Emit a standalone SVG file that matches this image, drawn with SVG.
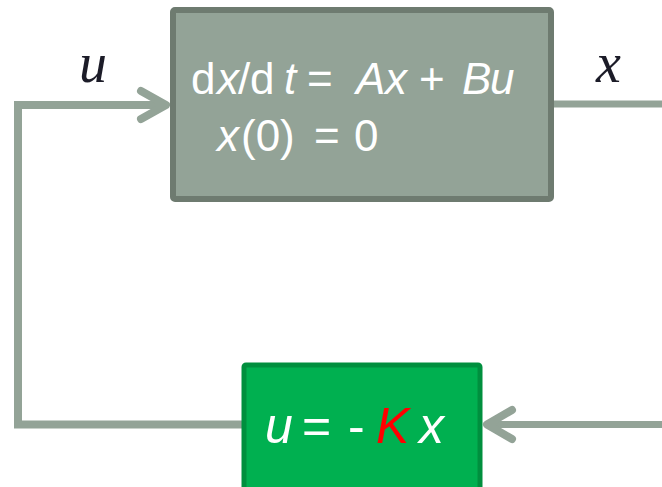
<svg xmlns="http://www.w3.org/2000/svg" width="662" height="487" viewBox="0 0 662 487">
<style>
.wire{fill:none;stroke:#93a397;stroke-width:8;stroke-linejoin:miter}
.head{fill:none;stroke:#93a397;stroke-width:8;stroke-linecap:round;stroke-linejoin:round}
.eq{font-family:"Liberation Sans",Arial,sans-serif;fill:#ffffff}
.it{font-style:italic}
.lbl{font-family:"Liberation Serif","Times New Roman",serif;font-style:italic;font-size:56px;fill:#1c1c28}
</style>
<rect width="662" height="487" fill="#ffffff"/>
<g id="connectors">
<polyline class="wire" points="244,424.5 18,424.5 18,105 166,105"/>
<polyline class="head" points="141,91 166,105 141,119"/>
<line class="wire" x1="552" y1="104" x2="662" y2="104" style="stroke-width:7"/>
<line class="wire" x1="488" y1="424.5" x2="662" y2="424.5" style="stroke-width:7"/>
<polyline class="head" points="512,410 487,424.5 512,439"/>
</g>
<g id="plant">
<rect x="173" y="10" width="378" height="189" fill="#93a397" stroke="#6e7b70" stroke-width="6" rx="2"/>
<text class="eq" font-size="44" y="94"><tspan x="191">d</tspan><tspan class="it" x="217">x</tspan><tspan x="238">/</tspan><tspan x="250">d</tspan><tspan class="it" x="284">t</tspan><tspan x="307">=</tspan><tspan class="it" x="356">A</tspan><tspan class="it" x="385">x</tspan><tspan x="419">+</tspan><tspan class="it" x="462">B</tspan><tspan class="it" x="490">u</tspan></text>
<text class="eq" font-size="44" y="151"><tspan class="it" x="217">x</tspan><tspan x="241">(0)</tspan><tspan x="314">=</tspan><tspan x="354">0</tspan></text>
</g>
<g id="controller">
<rect x="244" y="365" width="236" height="130" fill="#00b050" stroke="#008f3e" stroke-width="5" rx="2"/>
<text class="eq" font-size="50" y="443"><tspan class="it" x="265">u</tspan><tspan x="302">=</tspan><tspan x="348">-</tspan><tspan class="it" x="376" fill="#ff0000">K</tspan><tspan class="it" x="419">x</tspan></text>
</g>
<g id="labels">
<text class="lbl" x="79" y="82">u</text>
<text class="lbl" x="596" y="82">x</text>
</g>
</svg>
